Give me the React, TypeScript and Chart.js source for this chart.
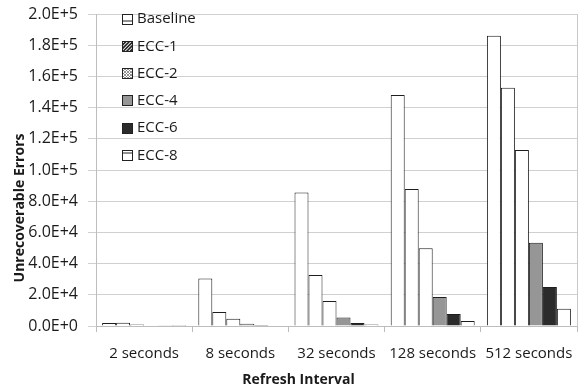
import React, { useEffect, useRef } from "react";
import { Chart, registerables } from "chart.js";
Chart.register(...registerables);

const categories = ["2 seconds", "8 seconds", "32 seconds", "128 seconds", "512 seconds"];
const seriesNames = ["Baseline", "ECC-1", "ECC-2", "ECC-4", "ECC-6", "ECC-8"];
const baseline = [2000, 30400, 85500, 148000, 186000];
const ecc1 = [2100, 9000, 32700, 87800, 152800];
const ecc2 = [1000, 4700, 16000, 49800, 112800];
const ecc4 = [300, 1500, 5400, 18600, 53400];
const ecc6 = [150, 600, 1900, 7700, 25000];
const ecc8 = [80, 300, 900, 3200, 11100];
const seriesValues = [baseline, ecc1, ecc2, ecc4, ecc6, ecc8];
const seriesFills = ["#ffffff", "#ffffff", "#ffffff", "#969696", "#2b2b2b", "#ffffff"];
const yMax = 200000;
const yStep = 20000;
const xTitle = "Refresh Interval";
const yTitle = "Unrecoverable Errors";

const FONT = "'Open Sans', sans-serif";
const TEXT = "#1a1a1a";

const overlayPlugin = {
  id: "overlay",
  afterDraw(chart: any) {
    const ctx: CanvasRenderingContext2D = chart.ctx;
    const a = chart.chartArea;
    ctx.save();
    // right border of plot area
    ctx.strokeStyle = "#c8c8c8";
    ctx.lineWidth = 1;
    ctx.beginPath();
    ctx.moveTo(Math.round(a.right) + 0.5, a.top);
    ctx.lineTo(Math.round(a.right) + 0.5, a.bottom);
    ctx.stroke();

    // legend
    const bx = a.left + 26;
    const tx = a.left + 41;
    for (let i = 0; i < seriesNames.length; i++) {
      const cy = a.top + 4.5 + i * 27.3;
      const by = Math.round(cy - 5) + 0.5;
      const x0 = Math.round(bx) + 0.5;
      const s = 10;
      ctx.fillStyle = seriesFills[i];
      ctx.fillRect(x0, by, s, s);
      ctx.save();
      ctx.beginPath();
      ctx.rect(x0, by, s, s);
      ctx.clip();
      ctx.strokeStyle = "#222";
      ctx.lineWidth = 1;
      if (i === 0) {
        ctx.beginPath();
        ctx.moveTo(x0, by + 6.5);
        ctx.lineTo(x0 + s, by + 6.5);
        ctx.stroke();
      } else if (i === 1) {
        ctx.lineWidth = 1.6;
        for (let k = -s; k < 2 * s; k += 3.5) {
          ctx.beginPath();
          ctx.moveTo(x0 + k, by + s);
          ctx.lineTo(x0 + k + s, by);
          ctx.stroke();
        }
      } else if (i === 2) {
        ctx.strokeStyle = "#777";
        ctx.lineWidth = 0.8;
        for (let k = -s; k < 2 * s; k += 3) {
          ctx.beginPath();
          ctx.moveTo(x0 + k, by + s);
          ctx.lineTo(x0 + k + s, by);
          ctx.stroke();
          ctx.beginPath();
          ctx.moveTo(x0 + k, by);
          ctx.lineTo(x0 + k + s, by + s);
          ctx.stroke();
        }
      } else if (i === 5) {
        ctx.beginPath();
        ctx.moveTo(x0, by + 2.5);
        ctx.lineTo(x0 + s, by + 2.5);
        ctx.stroke();
      }
      ctx.restore();
      ctx.strokeStyle = "#222";
      ctx.lineWidth = 1;
      ctx.strokeRect(x0, by, s, s);

      ctx.fillStyle = TEXT;
      ctx.font = `15px ${FONT}`;
      ctx.textAlign = "left";
      ctx.textBaseline = "middle";
      ctx.fillText(seriesNames[i], tx, cy + 0.5);
    }

    // axis titles
    ctx.fillStyle = TEXT;
    ctx.font = `bold 14px ${FONT}`;
    ctx.textAlign = "center";
    ctx.textBaseline = "middle";
    ctx.fillText(xTitle, 298.5, 380);
    ctx.save();
    ctx.translate(20, 208);
    ctx.rotate(-Math.PI / 2);
    ctx.fillText(yTitle, 0, 0);
    ctx.restore();
    ctx.restore();
  },
};

export default function App() {
  const ref = useRef<HTMLCanvasElement | null>(null);
  useEffect(() => {
    if (!ref.current) return;
    const chart = new Chart(ref.current, {
      type: "bar",
      data: {
        labels: categories,
        datasets: seriesNames.map((name, i) => ({
          label: name,
          data: seriesValues[i],
          backgroundColor: seriesFills[i],
          borderColor: "#1e1e1e",
          borderWidth: 1,
          categoryPercentage: 0.873,
          barPercentage: 1.0,
        })),
      },
      options: {
        responsive: false,
        animation: false,
        layout: { padding: { left: 0, top: 14, right: 10, bottom: 0 } },
        plugins: {
          legend: { display: false },
          tooltip: { enabled: false },
        },
        scales: {
          x: {
            grid: {
              drawOnChartArea: false,
              drawTicks: true,
              tickLength: 6,
              color: "#bdbdbd",
              offset: true,
            },
            border: { color: "#bdbdbd" },
            ticks: {
              color: TEXT,
              font: { family: FONT, size: 15 },
              padding: 13,
              maxRotation: 0,
              autoSkip: false,
            },
            afterFit: (s: any) => {
              s.height = 64;
              s.paddingLeft = 0;
              s.paddingRight = 0;
            },
          },
          y: {
            min: 0,
            max: yMax,
            grid: { color: "#d0d0d0", tickLength: 8, drawTicks: true },
            border: { color: "#bdbdbd" },
            ticks: {
              stepSize: yStep,
              color: TEXT,
              font: { family: FONT, size: 16 },
              padding: 10,
              callback: (v: any) => Number(v).toExponential(1).replace("e", "E"),
            },
            afterFit: (s: any) => {
              s.width = 96;
              s.paddingTop = 0;
              s.paddingBottom = 0;
            },
          },
        },
      },
      plugins: [overlayPlugin],
    });
    return () => chart.destroy();
  }, []);
  return (
    <div style={{ position: "fixed", left: 0, top: 0, width: 587, height: 390, background: "#fff" }}>
      <canvas ref={ref} width={587} height={390} />
    </div>
  );
}
